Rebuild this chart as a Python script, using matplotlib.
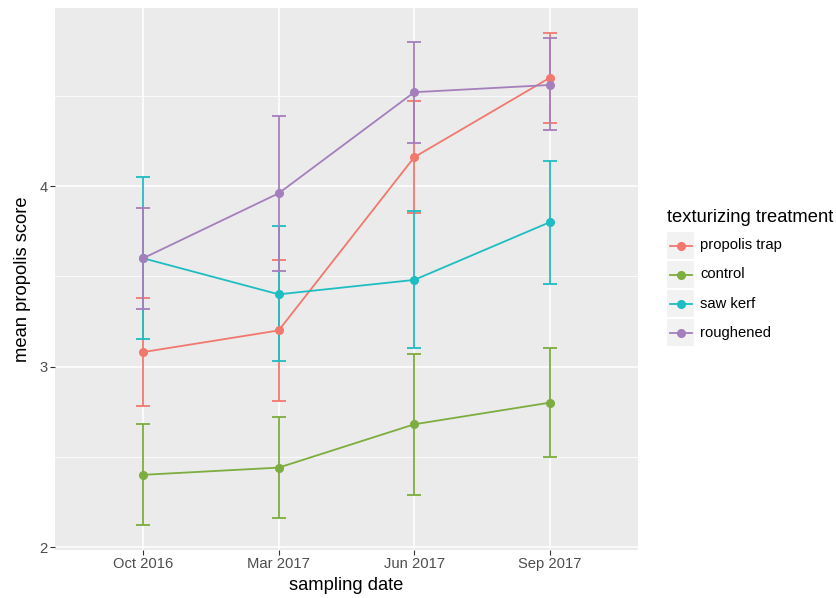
import matplotlib
matplotlib.use('Agg')
import matplotlib.pyplot as plt
from matplotlib.patches import Rectangle
from matplotlib.lines import Line2D
import numpy as np

plt.rcParams['font.family'] = ['Liberation Sans', 'DejaVu Sans']

# Datos
fechas = ['Oct 2016', 'Mar 2017', 'Jun 2017', 'Sep 2017']
tratamientos = ['propolis trap', 'control', 'saw kerf', 'roughened']
colores = ['#F1786E', '#7CAD3E', '#1EBDC2', '#A57FBC']

propolis_trap_media = [3.08, 3.20, 4.16, 4.60]
propolis_trap_inf = [2.78, 2.81, 3.85, 4.35]
propolis_trap_sup = [3.38, 3.59, 4.47, 4.85]

control_media = [2.40, 2.44, 2.68, 2.80]
control_inf = [2.12, 2.16, 2.29, 2.50]
control_sup = [2.68, 2.72, 3.07, 3.10]

saw_kerf_media = [3.60, 3.40, 3.48, 3.80]
saw_kerf_inf = [3.15, 3.03, 3.10, 3.46]
saw_kerf_sup = [4.05, 3.78, 3.86, 4.14]

roughened_media = [3.60, 3.96, 4.52, 4.56]
roughened_inf = [3.32, 3.53, 4.24, 4.31]
roughened_sup = [3.88, 4.39, 4.80, 4.82]

series = [
    (propolis_trap_media, propolis_trap_inf, propolis_trap_sup),
    (control_media, control_inf, control_sup),
    (saw_kerf_media, saw_kerf_inf, saw_kerf_sup),
    (roughened_media, roughened_inf, roughened_sup),
]

W, H = 836, 598
LW = 1.3
fig = plt.figure(figsize=(W / 100, H / 100), dpi=100)
ax = fig.add_axes([55 / W, 1 - 550 / H, (638 - 55) / W, (550 - 8) / H])
ax.set_facecolor('#EBEBEB')

x = np.arange(len(fechas))
for (media, inf, sup), color in zip(series, colores):
    media = np.array(media)
    err = [media - np.array(inf), np.array(sup) - media]
    ax.errorbar(x, media, yerr=err, fmt='none', ecolor=color, elinewidth=LW,
                capsize=4.8, capthick=LW, zorder=3)
    ax.plot(x, media, color=color, lw=LW, marker='o', ms=5.5, zorder=4)

# Limites con expansion tipo ggplot
todos = np.concatenate([np.array(s[1] + s[2]) for s in series])
rango = todos.max() - todos.min()
ax.set_ylim(todos.min() - 0.05 * rango, todos.max() + 0.05 * rango)
ax.set_xlim(-0.65, len(fechas) - 1 + 0.65)

ax.set_xticks(x)
ax.set_xticklabels(fechas)
ax.set_yticks([2, 3, 4])
ax.set_yticks([2.5, 3.5, 4.5], minor=True)
ax.grid(True, which='major', color='white', lw=1.1)
ax.grid(True, which='minor', axis='y', color='white', lw=0.55)
ax.set_axisbelow(True)
for s in ax.spines.values():
    s.set_visible(False)
ax.tick_params(which='major', length=3.3, width=0.8, color='#333333',
               labelcolor='#4D4D4D', labelsize=10.6, pad=2)
ax.tick_params(which='minor', length=0)

ax.set_xlabel('sampling date', fontsize=13.2, labelpad=4)
ax.set_ylabel('mean propolis score', fontsize=13.2, labelpad=6)

# Leyenda manual estilo ggplot
def px(xp, yp):
    return xp / W, 1 - yp / H

fig.text(*px(667, 218), 'texturizing treatment', fontsize=13.2, va='center', ha='left')
for i, (nombre, color) in enumerate(zip(tratamientos, colores)):
    top = 232 + 29 * i
    x0, y0 = px(667, top + 27)
    fig.patches.append(Rectangle((x0, y0), 27 / W, 27 / H, transform=fig.transFigure,
                                 facecolor='#F2F2F2', edgecolor='none'))
    yc = 1 - (top + 13.5) / H
    fig.lines.append(Line2D([670 / W, 692 / W], [yc, yc], transform=fig.transFigure,
                            color=color, lw=LW))
    fig.lines.append(Line2D([680.5 / W], [yc], transform=fig.transFigure,
                            color=color, marker='o', ms=5.5))
    fig.text(700 / W, yc, nombre, fontsize=10.6, va='center', ha='left')

fig.savefig('out.png', dpi=100)
